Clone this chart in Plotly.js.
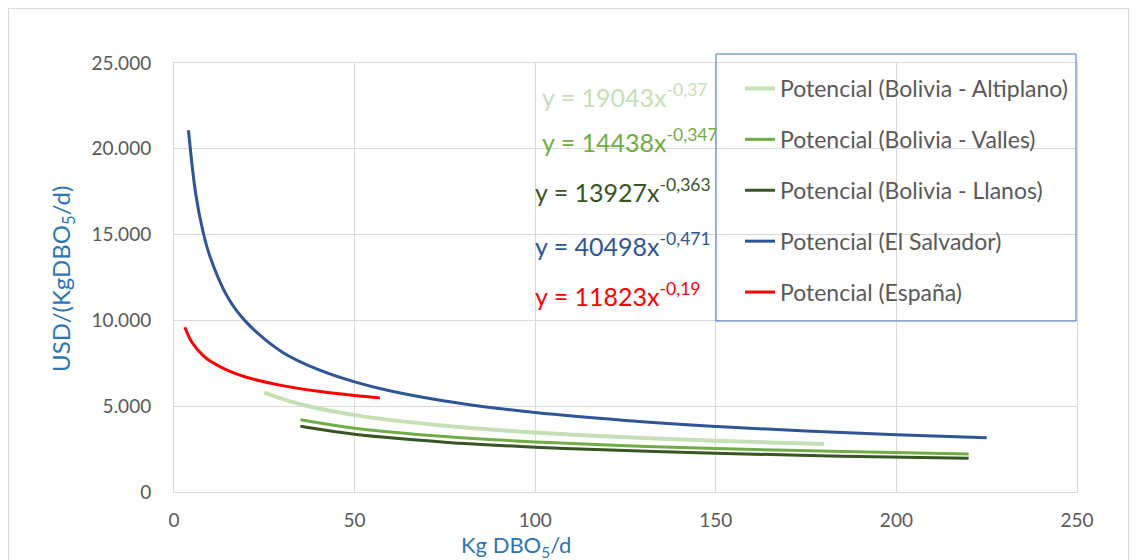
<!DOCTYPE html>
<html>
<head>
<meta charset="utf-8">
<script src="https://cdn.plot.ly/plotly-3.0.1.min.js"></script>
<style>
  html, body { margin: 0; padding: 0; background: #fff; }
  #frame { position: absolute; left: 8px; top: 8px; width: 1121px; height: 560px; border: 1px solid #d9d9d9; box-sizing: border-box; }
  #chart { position: absolute; left: 0; top: 0; width: 1137px; height: 560px; }
</style>
</head>
<body>
<div id="frame"></div>
<div id="chart"></div>
<script>
// Values
const seriesNames = [
  "Potencial (Bolivia - Altiplano)",
  "Potencial (Bolivia - Valles)",
  "Potencial (Bolivia - Llanos)",
  "Potencial (El Salvador)",
  "Potencial (España)"
];
const altiplanoX = [25, 35, 50, 75, 100, 125, 150, 180];
const altiplanoY = [5790, 5110, 4480, 3860, 3465, 3190, 2980, 2790];
const vallesX = [35, 50, 75, 100, 125, 150, 185, 220];
const vallesY = [4205, 3715, 3230, 2920, 2700, 2535, 2360, 2220];
const llanosX = [35, 50, 75, 100, 125, 150, 185, 220];
const llanosY = [3830, 3365, 2905, 2615, 2415, 2260, 2090, 1965];
const salvadorX = [4, 6, 8, 10, 15, 20, 30, 40, 50, 60, 80, 100, 125, 150, 175, 200, 225];
const salvadorY = [21080, 17400, 15200, 13700, 11300, 9900, 8150, 7130, 6420, 5890, 5140, 4630, 4170, 3820, 3555, 3340, 3160];
const espanaX = [3, 5, 8, 10, 15, 20, 30, 40, 50, 57];
const espanaY = [9600, 8710, 7965, 7630, 7070, 6690, 6200, 5865, 5620, 5485];
const equations = [
  "y = 19043x<sup>-0,37</sup>",
  "y = 14438x<sup>-0,347</sup>",
  "y = 13927x<sup>-0,363</sup>",
  "y = 40498x<sup>-0,471</sup>",
  "y = 11823x<sup>-0,19</sup>"
];
const xTicks = [0, 50, 100, 150, 200, 250];
const yTicks = [0, 5000, 10000, 15000, 20000, 25000];

const colors = ["#C5E0B4", "#70AD47", "#375623", "#2F5597", "#FF0000"];
const widths = [4, 3, 3, 3, 3];
const xs = [altiplanoX, vallesX, llanosX, salvadorX, espanaX];
const ys = [altiplanoY, vallesY, llanosY, salvadorY, espanaY];

const traces = seriesNames.map((n, i) => ({
  x: xs[i], y: ys[i], name: n, type: "scatter", mode: "lines",
  legendgroup: "g" + i,
  line: { color: colors[i], width: widths[i], shape: "spline", smoothing: 1 }
}));

const fontFam = "Lato, 'Open Sans', sans-serif";
const plotL = 174, plotR = 1077, plotT = 63, plotB = 492;
const pw = plotR - plotL, ph = plotB - plotT;
const px2x = p => (p - plotL) / pw;
const py2y = p => (plotB - p) / ph;

const eqPos = [[540, 95], [540, 140], [533, 190], [533, 245], [533, 294]];
const annotations = equations.map((t, i) => ({
  text: t, xref: "paper", yref: "paper",
  x: px2x(eqPos[i][0]), y: py2y(eqPos[i][1]),
  xanchor: "left", yanchor: "middle", showarrow: false,
  font: { family: fontFam, size: 25, color: colors[i] }
}));
annotations.push({
  text: "Kg DBO<sub>5</sub>/d", xref: "paper", yref: "paper",
  x: px2x(516), y: py2y(546), xanchor: "center", yanchor: "middle",
  showarrow: false, font: { family: fontFam, size: 22, color: "#2E75B6" }
});
annotations.push({
  text: "USD/(KgDBO<sub>5</sub>/d)", xref: "paper", yref: "paper",
  x: px2x(62), y: py2y(279), xanchor: "center", yanchor: "middle",
  textangle: -90, showarrow: false, font: { family: fontFam, size: 24, color: "#2E75B6" }
});

const layout = {
  width: 1137, height: 560,
  margin: { l: plotL, r: 1137 - plotR, t: plotT, b: 560 - plotB, pad: 0 },
  paper_bgcolor: "rgba(0,0,0,0)", plot_bgcolor: "#fff",
  separators: ",.",
  font: { family: fontFam, size: 19, color: "#595959" },
  showlegend: true,
  legend: {
    x: px2x(740), y: py2y(67), xanchor: "left", yanchor: "top",
    borderwidth: 0, bgcolor: "rgba(0,0,0,0)",
    tracegroupgap: 18, font: { family: fontFam, size: 23, color: "#595959" },
    traceorder: "grouped"
  },
  shapes: [{
    type: "rect", xref: "paper", yref: "paper",
    x0: px2x(716), x1: px2x(1076), y0: py2y(321), y1: py2y(54),
    line: { color: "#4472C4", width: 1 }, fillcolor: "rgba(0,0,0,0)", layer: "above"
  }],
  xaxis: {
    range: [0, 250], tickvals: xTicks, showgrid: true, gridcolor: "#D9D9D9",
    zeroline: false, showline: true, linecolor: "#D9D9D9", mirror: true,
    ticks: "", ticklabelstandoff: 11, fixedrange: true, tickfont: { size: 19 }
  },
  yaxis: {
    range: [0, 25000], tickvals: yTicks, tickformat: ",d", showgrid: true, gridcolor: "#D9D9D9",
    zeroline: false, showline: true, linecolor: "#D9D9D9", mirror: true,
    ticks: "", ticklabelstandoff: 18, fixedrange: true
  },
  annotations: annotations
};

Plotly.newPlot("chart", traces, layout, { displayModeBar: false, staticPlot: true });
</script>
</body>
</html>
